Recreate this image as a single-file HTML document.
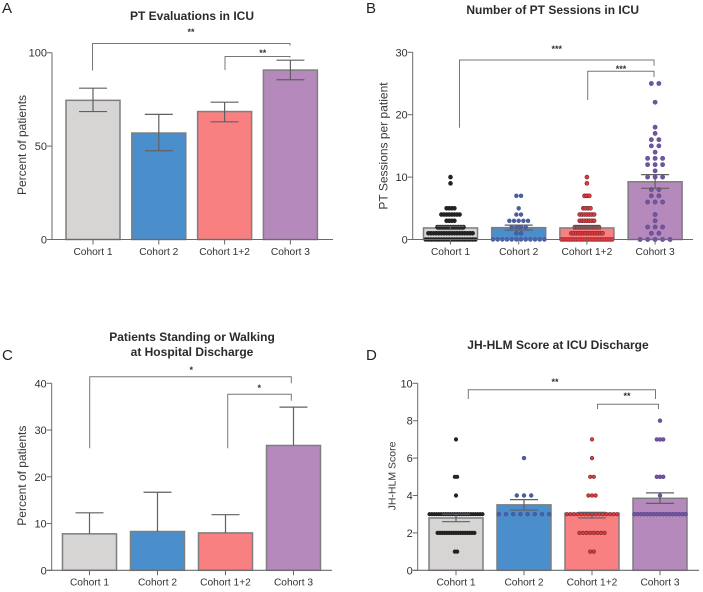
<!DOCTYPE html>
<html lang="en">
<head>
<meta charset="utf-8">
<title>ICU cohort charts</title>
<style>
html,body{margin:0;padding:0;background:#fff;width:703px;height:592px;overflow:hidden}
svg{display:block;font-family:"Liberation Sans",Arial,sans-serif}
</style>
</head>
<body>
<svg id="figure" xmlns="http://www.w3.org/2000/svg" width="703" height="592" viewBox="0 0 703 592">
<defs><filter id="soft" x="0" y="0" width="100%" height="100%"><feGaussianBlur stdDeviation="0.35"/></filter></defs>
<g id="root" filter="url(#soft)"></g>
</svg>
<script>
const cohortLabels = ["Cohort 1", "Cohort 2", "Cohort 1+2", "Cohort 3"];

const evalValues = [74.5, 57, 68.5, 90.7];
const evalErrHigh = [81, 67, 73.5, 96];
const evalErrLow = [68.5, 47.5, 63, 85.5];
const evalTicks = [0, 50, 100];

const sessionValues = [1.85, 1.9, 1.85, 9.25];
const sessionErrHigh = [2.1, 2.3, 2.05, 10.4];
const sessionErrLow = [1.6, 1.5, 1.65, 8.2];
const sessionTicks = [0, 10, 20, 30];
const sessionDots1 = [0,0,0,0,0,0,0,0,0,0,0,0,0,0,0,0,0,0,0,0,1,1,1,1,1,1,1,1,1,1,1,1,1,1,1,1,1,1,2,2,2,2,2,2,2,2,2,2,2,3,3,3,3,4,4,4,4,4,4,4,4,5,5,5,5,9,10];
const sessionDots2 = [0,0,0,0,0,0,0,0,0,0,0,0,1,1,2,2,2,2,3,3,3,3,3,4,4,5,7,7];
const sessionDots12 = [0,0,0,0,0,0,0,0,0,0,0,0,0,0,0,0,0,0,0,0,0,0,1,1,1,1,1,1,1,1,1,1,1,1,1,1,2,2,2,2,2,2,2,2,2,2,2,3,3,3,3,3,3,3,4,4,4,4,4,4,4,5,5,5,5,7,7,7,9,10];
const sessionDots3 = [0,0,0,0,0,1,1,2,2,2,3,4,6,6,6,7,7,8,8,10,10,10,11,12,12,12,13,13,13,14,15,15,16,16,17,18,22,25,25];

const standingValues = [7.8, 8.3, 8, 26.7];
const standingErrHigh = [12.3, 16.7, 11.9, 34.9];
const standingTicks = [0, 10, 20, 30, 40];

const scoreValues = [2.8, 3.5, 3.05, 3.85];
const scoreErrHigh = [3.0, 3.78, 3.1, 4.14];
const scoreErrLow = [2.6, 3.22, 2.8, 3.58];
const scoreTicks = [0, 2, 4, 6, 8, 10];
const scoreDots1 = [1,1,2,2,2,2,2,2,2,2,2,2,2,2,2,2,2,2,2,3,3,3,3,3,3,3,3,3,3,3,3,3,3,3,3,3,3,3,3,3,3,3,3,4,5,5,7];
const scoreDots2 = [3,3,3,3,3,3,3,3,4,4,4,6];
const scoreDots12 = [1,1,2,2,2,2,2,2,2,2,3,3,3,3,3,3,3,3,3,3,3,3,3,3,3,4,4,4,5,5,6,7];
const scoreDots3 = [3,3,3,3,3,3,3,3,3,3,3,3,3,3,3,3,3,4,5,5,5,7,7,7,8];

const NS = "http://www.w3.org/2000/svg";
const root = document.getElementById("root");
const barFills = ["#d6d5d3", "#4b8ecc", "#f98080", "#b689bd"];
const AXIS = "#6b6b6e";
const BAR_STROKE = "#7e7d80";

function make(tag, attrs, parent) {
  const n = document.createElementNS(NS, tag);
  for (const k in attrs) n.setAttribute(k, attrs[k]);
  (parent || root).appendChild(n);
  return n;
}
function line(x1, y1, x2, y2, color, width, parent) {
  return make("line", {x1: x1, y1: y1, x2: x2, y2: y2, stroke: color, "stroke-width": width}, parent);
}
function label(str, x, y, size, anchor, color, weight, parent) {
  const t = make("text", {x: x, y: y, "font-size": size, "text-anchor": anchor, fill: color, "font-weight": weight || "normal"}, parent);
  t.textContent = str;
  return t;
}

function drawPanel(cfg) {
  const g = make("g", {});
  
  
  const yOf = v => cfg.y0 - (v / cfg.max) * (cfg.y0 - cfg.yTop);
  const xOf = i => cfg.first + i * cfg.step;
  const half = cfg.barWidth / 2;

  const letter = label(cfg.letter, cfg.letterX, cfg.letterY, 15, "start", "#222", "normal", g);
  
  

  cfg.title.forEach((str, i) => {
    const t = label(str, cfg.titleX, cfg.titleY + i * 15, 12, "middle", "#2b2b2b", "bold", g);
    
    
  });

  const yt = label(cfg.yTitle, 0, 0, cfg.yTitleSize, "middle", "#3a3a3a", "normal", g);
  yt.setAttribute("transform", "translate(" + cfg.yTitleX + "," + cfg.yTitleY + ") rotate(-90)");
  
  

  cfg.values.forEach((v, i) => {
    const bar = make("rect", {x: xOf(i) - half, y: yOf(v), width: cfg.barWidth, height: cfg.y0 - yOf(v), fill: barFills[i], stroke: BAR_STROKE, "stroke-width": 1.5}, g);
    
    
  });

  (cfg.dots || []).forEach((vals, i) => {
    const seen = {};
    vals.forEach(v => { seen[v] = (seen[v] || 0) + 1; });
    const used = {};
    vals.forEach(v => {
      used[v] = (used[v] || 0) + 1;
      const cx = xOf(i) + (used[v] - 1 - (seen[v] - 1) / 2) * cfg.dotSpacing[i];
      const dot = make("circle", {cx: cx, cy: yOf(v), r: cfg.dotR[i], fill: cfg.dotFill[i], stroke: cfg.dotStroke[i], "stroke-width": 0.6}, g);
      
      
    });
  });

  cfg.values.forEach((v, i) => {
    const low = cfg.errLow ? cfg.errLow[i] : v;
    const eg = make("g", {}, g);
    
    
    const c = xOf(i);
    line(c, yOf(cfg.errHigh[i]), c, yOf(low), "#606064", 1.2, eg);
    line(c - 14, yOf(cfg.errHigh[i]), c + 14, yOf(cfg.errHigh[i]), "#606064", 1.2, eg);
    if (cfg.errLow) line(c - 14, yOf(low), c + 14, yOf(low), "#606064", 1.2, eg);
  });

  const yAxis = line(cfg.axisX, cfg.yTop, cfg.axisX, cfg.y0, AXIS, 1, g);
  
  
  const xAxis = line(cfg.axisX - 5, cfg.y0, cfg.axisEnd, cfg.y0, AXIS, 1.1, g);
  
  

  cfg.ticks.forEach(v => {
    const tk = line(cfg.axisX - 5, yOf(v), cfg.axisX, yOf(v), AXIS, 1, g);
    
    
    const tl = label(String(v), cfg.axisX - 5, yOf(v) + 4, 11, "end", "#333", "normal", g);
    
    
  });

  cohortLabels.forEach((str, i) => {
    const tk = line(xOf(i), cfg.y0, xOf(i), cfg.y0 + 5, AXIS, 1, g);
    
    
    const tl = label(str, xOf(i), cfg.xLabelY, 10.2, "middle", "#333", "normal", g);
    
    
  });

  cfg.brackets.forEach(b => {
    const p = make("path", {d: "M" + b.x1 + " " + b.leftEnd + "V" + b.top + "H" + b.x2 + "V" + b.rightEnd, fill: "none", stroke: "#77777a", "stroke-width": 1}, g);
    
    
    const s = label(b.stars, b.starX, b.starY, 9, "middle", "#333", "bold", g);
    
    
  });
}

drawPanel({
  name: "panel-a-pt-evaluations", letter: "A", letterX: 2, letterY: 13,
  title: ["PT Evaluations in ICU"], titleX: 192, titleY: 20,
  yTitle: "Percent of patients", yTitleSize: 12, yTitleX: 26, yTitleY: 145,
  axisX: 52, axisEnd: 333, y0: 239.5, yTop: 52.7, max: 100,
  first: 93, step: 65.8, barWidth: 54, xLabelY: 255,
  values: evalValues, errHigh: evalErrHigh, errLow: evalErrLow, ticks: evalTicks,
  brackets: [
    {x1: 92.5, x2: 290, top: 43.5, leftEnd: 70.5, rightEnd: 45.5, stars: "**", starX: 191, starY: 35},
    {x1: 225, x2: 290, top: 56.5, leftEnd: 70, rightEnd: 57.5, stars: "**", starX: 262.7, starY: 56}
  ]
});

drawPanel({
  name: "panel-b-pt-sessions", letter: "B", letterX: 366, letterY: 13,
  title: ["Number of PT Sessions in ICU"], titleX: 552.7, titleY: 14,
  yTitle: "PT Sessions per patient", yTitleSize: 12, yTitleX: 387.5, yTitleY: 146,
  axisX: 412.7, axisEnd: 693, y0: 239.5, yTop: 52.3, max: 30,
  first: 450.5, step: 68.2, barWidth: 54, xLabelY: 255,
  values: sessionValues, errHigh: sessionErrHigh, errLow: sessionErrLow, ticks: sessionTicks,
  dots: [sessionDots1, sessionDots2, sessionDots12, sessionDots3],
  dotSpacing: [2.6, 4.67, 2.4, 7.5], dotR: [2, 1.9, 2, 2.1],
  dotFill: ["#232323", "#4a5fa8", "#e1383b", "#6f55a0"],
  dotStroke: ["#232323", "#41548f", "#6f2a30", "#5d4a8c"],
  brackets: [
    {x1: 459.5, x2: 654, top: 60, leftEnd: 127.7, rightEnd: 65.7, stars: "***", starX: 556.7, starY: 52},
    {x1: 587.7, x2: 654, top: 71.3, leftEnd: 100, rightEnd: 77, stars: "***", starX: 621, starY: 72}
  ]
});

drawPanel({
  name: "panel-c-standing-walking", letter: "C", letterX: 2, letterY: 360,
  title: ["Patients Standing or Walking", "at Hospital Discharge"], titleX: 192, titleY: 341,
  yTitle: "Percent of patients", yTitleSize: 12, yTitleX: 26, yTitleY: 475.7,
  axisX: 51.7, axisEnd: 332, y0: 570.3, yTop: 383.3, max: 40,
  first: 89.5, step: 68, barWidth: 54, xLabelY: 585.7,
  values: standingValues, errHigh: standingErrHigh, ticks: standingTicks,
  brackets: [
    {x1: 89.7, x2: 291.3, top: 376.7, leftEnd: 448.3, rightEnd: 383.3, stars: "*", starX: 191.3, starY: 373},
    {x1: 227.7, x2: 291.3, top: 394.3, leftEnd: 448.3, rightEnd: 400.7, stars: "*", starX: 259.3, starY: 391}
  ]
});

drawPanel({
  name: "panel-d-jh-hlm-score", letter: "D", letterX: 366, letterY: 360,
  title: ["JH-HLM Score at ICU Discharge"], titleX: 558, titleY: 349,
  yTitle: "JH-HLM Score", yTitleSize: 10.5, yTitleX: 395.5, yTitleY: 476,
  axisX: 417.7, axisEnd: 699, y0: 570.3, yTop: 383.3, max: 10,
  first: 456, step: 68, barWidth: 54, xLabelY: 585.7,
  values: scoreValues, errHigh: scoreErrHigh, errLow: scoreErrLow, ticks: scoreTicks,
  dots: [scoreDots1, scoreDots2, scoreDots12, scoreDots3],
  dotSpacing: [2.3, 7.2, 3.6, 3.2], dotR: [1.8, 1.9, 1.8, 1.9],
  dotFill: ["#232323", "#4a5fa8", "#e1383b", "#6f55a0"],
  dotStroke: ["#232323", "#41548f", "#6f2a30", "#5d4a8c"],
  brackets: [
    {x1: 468.3, x2: 655.5, top: 389.7, leftEnd: 399, rightEnd: 399, stars: "**", starX: 555, starY: 385},
    {x1: 597.5, x2: 658.5, top: 404.3, leftEnd: 409, rightEnd: 409, stars: "**", starX: 627, starY: 399}
  ]
});
</script>
</body>
</html>
